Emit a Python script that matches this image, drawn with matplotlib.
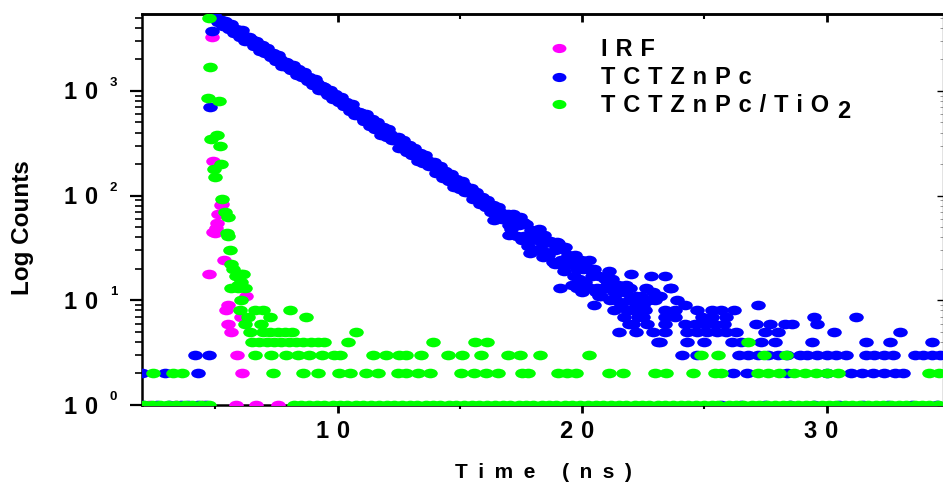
import numpy as np
import matplotlib
matplotlib.use("Agg")
import matplotlib.pyplot as plt
import matplotlib.transforms as mtransforms
from matplotlib.path import Path
from matplotlib.ticker import FixedLocator, LogLocator, NullFormatter

plt.rcParams['font.family'] = ['Liberation Sans', 'DejaVu Sans']
plt.rcParams['font.weight'] = 'bold'

# ---------------------------------------------------------------- data
series_labels = ["IRF", "TCTZnPc", "TCTZnPc/TiO"]
label_subscript = "2"
series_colors = ["#ff00ff", "#0000ff", "#00ff00"]
x_label = "Time (ns)"
y_label = "Log Counts"
x_major_ticks = [10, 20, 30]
x_minor_ticks = [5, 15, 25]
y_decades = [0, 1, 2, 3]

# instrument response function
irf_peak_ns = [4.76, 4.87, 4.90, 4.90, 4.97, 5.01, 5.06, 5.10, 5.24, 5.28, 5.35, 6.25]
irf_peak_counts = [18, 3300, 215, 45, 44, 49, 55, 66, 81, 83, 24, 11]
irf_low_counts = {
    9: [5.50],
    8: [5.45],
    7: [6.06],
    6: [5.50],
    5: [5.63],
    3: [5.90],
    2: [6.10],
    1: [2.30, 3.40, 4.50, 5.86, 6.67, 7.56],
}

# TCTZnPc decay, channel counts from the start of the decay
tctznpc_decay_start_ns = 4.95
tctznpc_channel_ns = 0.075
tctznpc_decay_counts = [
    5300, 4840, 4570, 4700, 4700, 4130, 4680, 4290, 3930, 4390,
    3890, 3590, 3940, 3730, 3280, 3780, 3450, 2970, 3040, 3240,
    3160, 2840, 2680, 3000, 2750, 2420, 2740, 2520, 2310, 2580,
    2280, 2100, 2310, 2190, 1930, 2220, 2020, 1740, 1790, 1900,
    1850, 1660, 1570, 1760, 1610, 1410, 1610, 1470, 1350, 1510,
    1340, 1240, 1360, 1280, 1130, 1300, 1180, 1020, 1050, 1110,
    1080, 972, 920, 1030, 944, 828, 935, 859, 784, 875,
    772, 713, 781, 739, 647, 745, 677, 582, 596, 634,
    616, 554, 510, 603, 544, 457, 538, 461, 434, 499,
    432, 377, 450, 421, 359, 433, 391, 336, 340, 341,
    365, 287, 288, 341, 308, 259, 305, 261, 246, 282,
    245, 214, 255, 238, 203, 245, 221, 190, 193, 193,
    207, 163, 163, 193, 174, 146, 172, 148, 139, 159,
    138, 121, 144, 134, 115, 138, 125, 108, 109, 109,
    117, 92, 92, 109, 98, 83, 97, 83, 78, 90,
    78, 69, 81, 76, 65, 78, 70, 60, 61, 61,
    66, 52, 48, 66, 61, 41, 52, 63, 38, 41,
    54, 33, 38, 47, 44, 39, 30, 48, 36, 30,
    42, 36, 27, 37, 35, 23, 30, 36, 22, 24,
    31, 19, 22, 27, 25, 22, 17, 27, 20, 16,
    24, 20, 15, 21, 20, 13, 17, 20, 12, 13,
    17, 11, 13, 16, 14, 13, 10, 16, 12, 10,
    14, 12, 9, 13, 12, 8, 10, 13, 8, 8,
    11, 7, 8, 10, 9, 8, 6, 10,
]
tctznpc_extra_ns = [4.80, 4.87, 16.40, 17.00, 17.60, 17.85, 18.40, 18.50,
                    18.90, 19.00, 19.10, 19.30, 19.60, 19.80, 20.00, 20.30,
                    20.50, 20.70, 21.10, 21.30, 21.80, 22.00, 22.40, 22.60,
                    22.80, 22.90, 23.00, 23.20, 23.40, 23.60, 23.65, 23.90]
tctznpc_extra_counts = [707, 3760, 58, 42, 56, 28, 26, 38,
                        22, 35, 13, 32, 14, 13, 12, 24,
                        9, 11, 19, 8, 14, 18, 11, 13,
                        17, 12, 10, 11, 17, 13, 13, 10]
tctznpc_low_counts = {
    9: [22.2, 24.2, 27.2],
    8: [23.4, 23.8, 24.7, 25.3, 25.7, 26.2],
    7: [21.7, 22.5, 23.4, 23.8, 24.9, 25.3, 25.9, 29.5, 31.2],
    6: [21.9, 22.1, 23.4, 24.2, 24.6, 25.0, 25.4, 25.8, 27.1, 27.7, 28.3,
        28.6, 29.6],
    5: [21.5, 22.2, 22.9, 23.4, 24.3, 24.7, 25.1, 25.5, 25.9, 26.3, 27.5,
        28.0, 30.3, 33.0],
    4: [23.1, 23.2, 24.3, 25.0, 26.15, 26.5, 27.3, 27.9, 29.4, 31.6, 32.6,
        34.3],
    3: [4.15, 4.76, 24.1, 24.7, 26.4, 26.8, 27.2, 27.6, 28.0, 28.4, 28.9,
        29.2, 29.6, 30.0, 30.4, 30.8, 31.6, 31.95, 32.35, 32.7, 33.6, 33.95,
        34.3, 34.65],
    2: [2.02, 2.95, 4.29, 26.16, 26.73, 28.4, 30.0, 31.0, 31.45, 31.9,
        32.35, 32.8, 33.13],
    1: [2.05, 2.6, 3.1, 3.6, 3.9, 4.3, 4.6, 25.7, 26.5, 27.5, 28.5, 29.5,
        30.5, 31.5, 32.5, 33.5, 34.5],
}

# TCTZnPc/TiO2
tio2_peak_ns = [4.70, 4.76, 4.80, 4.83, 4.93, 4.97, 5.08, 5.15, 5.18, 5.24,
                5.28, 5.38, 5.47, 5.51, 5.51, 5.61, 5.65, 5.65, 5.72, 5.86,
                5.92, 5.92, 6.06, 6.06, 6.06, 6.13, 6.20]
tio2_peak_counts = [850, 5000, 1700, 350, 178, 150, 380, 800, 300, 200,
                    92, 69, 44, 62, 41, 30, 22, 13, 20, 17,
                    14, 13, 18, 15, 10, 18, 13]
tio2_low_counts = {
    8: [5.99, 6.62, 6.95, 8.04],
    7: [6.33, 7.22, 8.72],
    6: [6.20, 6.88],
    5: [6.40, 6.95, 7.25, 7.55, 7.85, 8.15, 10.74],
    4: [6.50, 6.80, 7.10, 7.40, 7.70, 8.00, 8.30, 8.60, 8.90, 9.20, 9.45,
        10.42, 13.90, 15.60, 16.10, 26.80],
    3: [6.63, 7.26, 7.90, 8.37, 8.85, 9.35, 9.84, 10.08, 11.44, 11.99, 12.50,
        12.80, 13.42, 14.50, 15.07, 15.88, 16.95, 17.44, 18.26, 20.30, 24.87,
        25.55, 27.46, 28.32],
    2: [2.45, 3.25, 3.65, 7.35, 8.57, 9.18, 10.06, 10.49, 11.17, 11.64, 12.45,
        12.80, 13.27, 13.76, 15.05, 15.57, 16.07, 16.56, 17.55, 17.80, 19.00,
        19.40, 19.77, 21.12, 21.68, 22.97, 23.45, 24.53, 25.45, 25.70, 27.20,
        27.60, 28.05, 28.67, 29.10, 29.55, 30.00, 30.47, 34.20, 34.60],
    1: [2.10, 2.40, 2.75, 3.05, 3.40, 3.75, 4.05, 4.40, 4.75,
        8.20, 8.50, 8.85, 9.15, 9.45, 9.80, 10.10, 10.40, 10.75, 11.05,
        11.35, 11.70, 12.00, 12.30, 12.65, 12.95, 13.25, 13.60, 13.90, 14.20,
        14.55, 14.85, 15.15, 15.50, 15.80, 16.10, 16.45, 16.75, 17.05, 17.40,
        17.70, 18.00, 18.35, 18.65, 18.95, 19.30, 19.60, 19.90, 20.25, 20.55,
        20.85, 21.20, 21.50, 21.80, 22.15, 22.45, 22.75, 23.10, 23.40, 23.70,
        24.05, 24.35, 24.65, 25.00, 25.30, 25.55, 26.00, 26.30, 26.60, 26.95,
        27.25, 27.55, 27.90, 28.20, 28.50, 28.85, 29.15, 29.45, 29.80, 30.10,
        30.40, 30.75, 31.05, 31.35, 31.70, 32.00, 32.30, 32.65, 32.95, 33.25,
        33.60, 33.90, 34.20, 34.55],
}


def merge(times, counts, low_counts):
    t = list(times)
    c = list(counts)
    for level, level_times in low_counts.items():
        t.extend(level_times)
        c.extend([level] * len(level_times))
    return np.array(t, float), np.array(c, float)


def tracked(text, gap="\u2004"):
    return gap.join(text)


irf_t, irf_c = merge(irf_peak_ns, irf_peak_counts, irf_low_counts)
decay_t = tctznpc_decay_start_ns + tctznpc_channel_ns * np.arange(len(tctznpc_decay_counts))
tct_t, tct_c = merge(list(decay_t) + tctznpc_extra_ns,
                     tctznpc_decay_counts + tctznpc_extra_counts,
                     tctznpc_low_counts)
tio_t, tio_c = merge(tio2_peak_ns, tio2_peak_counts, tio2_low_counts)

# ---------------------------------------------------------------- figure
W, H = 943, 484
fig = plt.figure(figsize=(W / 100, H / 100), dpi=100)
ax = fig.add_axes([142 / W, 1 - 405 / H, (942.5 - 142) / W, (405 - 14) / H])
ax.set_yscale('log')
ax.set_xlim(2.0, 2.0 + 800.5 / 24.45)
ax.set_ylim(1, 5420)

circ = Path.unit_circle()
oval = Path(circ.vertices * np.array([1.0, 0.66]), circ.codes)
msize = 110

for (t, c), color, z in zip([(irf_t, irf_c), (tct_t, tct_c), (tio_t, tio_c)],
                            series_colors, [3, 4, 5]):
    ax.scatter(t, c, s=msize, marker=oval, color=color, linewidths=0,
               zorder=z, clip_on=True)

# spines
for side in ['left', 'top', 'bottom']:
    ax.spines[side].set_linewidth(1.8)
ax.spines['right'].set_linewidth(0.8)

# bottom / left ticks point outward
ax.xaxis.set_major_locator(FixedLocator(x_major_ticks))
ax.xaxis.set_minor_locator(FixedLocator(x_minor_ticks))
ax.tick_params(axis='x', which='major', direction='out', length=5.8, width=2.0,
               labelbottom=False, top=False)
ax.tick_params(axis='x', which='minor', direction='out', length=3.0, width=1.5,
               top=False)
ax.yaxis.set_major_locator(LogLocator(base=10, numticks=10))
ax.yaxis.set_minor_locator(LogLocator(base=10, subs=np.arange(2, 10), numticks=20))
ax.yaxis.set_minor_formatter(NullFormatter())
ax.tick_params(axis='y', which='major', direction='out', length=8.6, width=1.6,
               labelleft=False, right=False)
ax.tick_params(axis='y', which='minor', direction='out', length=5.0, width=1.2,
               right=False)

# top / right ticks point inward
secx = ax.secondary_xaxis('top')
secx.xaxis.set_major_locator(FixedLocator(x_major_ticks))
secx.xaxis.set_minor_locator(FixedLocator(x_minor_ticks))
secx.tick_params(which='major', direction='in', length=5.8, width=2.0, labeltop=False)
secx.tick_params(which='minor', direction='in', length=3.6, width=1.5)
secx.spines['top'].set_linewidth(1.8)

secy = ax.secondary_yaxis('right')
secy.tick_params(which='major', direction='in', length=4.5, width=1.0, labelright=False)
secy.tick_params(which='minor', direction='in', length=2.0, width=0.6, color='0.55')
secy.yaxis.set_minor_formatter(NullFormatter())
secy.spines['right'].set_linewidth(0.8)

# tick labels, positioned in pixels relative to the axes
ytrans = ax.get_yaxis_transform()
base_label = mtransforms.offset_copy(ytrans, fig=fig, x=-44, y=-8.5, units='dots')
sup_label = mtransforms.offset_copy(ytrans, fig=fig, x=-32, y=5, units='dots')
for d in y_decades:
    ax.text(0, 10 ** d, tracked("10"), transform=base_label, ha='right',
            va='baseline', fontsize=17, fontweight='bold', clip_on=False)
    ax.text(0, 10 ** d, str(d), transform=sup_label, ha='left',
            va='baseline', fontsize=9.5, fontweight='bold', clip_on=False)

xtick_label = mtransforms.offset_copy(ax.get_xaxis_transform(), fig=fig, x=-5,
                                      y=-33, units='dots')
for v in x_major_ticks:
    ax.text(v, 0, tracked(str(v)), transform=xtick_label, ha='center',
            va='baseline', fontsize=17, fontweight='bold', clip_on=False)

# axis titles
fig.text(543 / W, 1 - 478 / H, tracked(x_label, "\u2002"), ha='center',
         va='baseline', fontsize=15, fontweight='bold')
fig.text(23 / W, 1 - 228 / H, y_label, rotation=90, ha='center', va='center',
         fontsize=17.5, fontweight='bold')

# legend
legend_rows_px = [48, 77, 104]
for label, color, y in zip(series_labels, series_colors, legend_rows_px):
    ax.scatter([559 / W], [1 - y / H], s=100, marker=oval, color=color,
               linewidths=0, transform=fig.transFigure, clip_on=False, zorder=10)
    txt = fig.text(601 / W, 1 - (y + 7.5) / H, tracked(label), ha='left',
                   va='baseline', fontsize=17, fontweight='bold')
ax.annotate(label_subscript, xy=(1, 0), xycoords=txt, xytext=(8, -7),
            textcoords='offset pixels', ha='left', va='bottom', fontsize=17,
            fontweight='bold', annotation_clip=False)

fig.savefig("out.png", dpi=100)
